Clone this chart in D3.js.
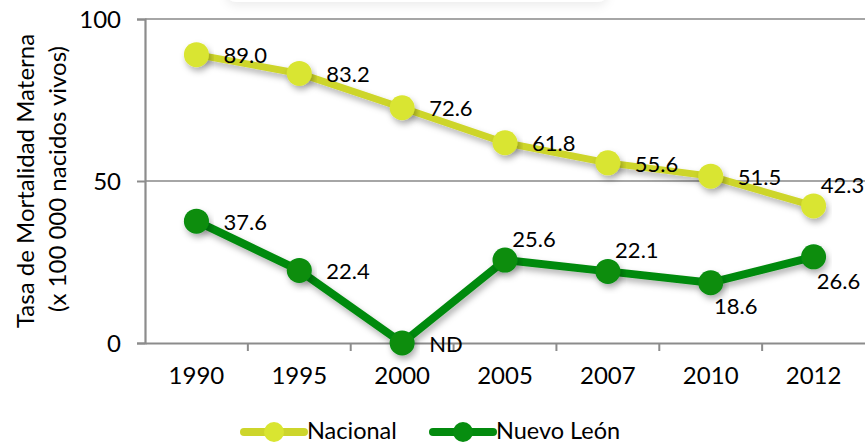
<!DOCTYPE html>
<html>
<head>
<meta charset="utf-8">
<script src="https://cdn.jsdelivr.net/npm/d3@7"></script>
<style>
  html, body { margin: 0; padding: 0; background: #fff; }
  svg { display: block; font-family: Lato, "Open Sans", sans-serif; }
</style>
</head>
<body>
<svg id="chart" width="865" height="445"></svg>
<script>
const years = ["1990", "1995", "2000", "2005", "2007", "2010", "2012"];
const nacional = [89.0, 83.2, 72.6, 61.8, 55.6, 51.5, 42.3];
const nuevoLeon = [37.6, 22.4, 0, 25.6, 22.1, 18.6, 26.6];
const nacionalLabels = ["89.0", "83.2", "72.6", "61.8", "55.6", "51.5", "42.3"];
const nuevoLeonLabels = ["37.6", "22.4", "ND", "25.6", "22.1", "18.6", "26.6"];
const nacionalPlace = ["right", "right", "right", "right", "right", "right", "above"];
const nuevoLeonPlace = ["right", "right", "right", "above", "above", "below", "below"];
const yTicks = [0, 50, 100];
const seriesNames = ["Nacional", "Nuevo León"];

const svg = d3.select("#chart");
const margin = { left: 145, right: 0, top: 19, bottom: 102 };
const W = 865, H = 445;

const x = d3.scaleBand().domain(years).range([margin.left, W - margin.right]).padding(0);
const y = d3.scaleLinear().domain([0, 100]).range([H - margin.bottom, margin.top]);

const defs = svg.append("defs");
const f = defs.append("filter").attr("id", "shadow").attr("x", "-20%").attr("y", "-20%").attr("width", "140%").attr("height", "160%");
f.append("feDropShadow").attr("dx", 2).attr("dy", 4).attr("stdDeviation", 3).attr("flood-color", "#000").attr("flood-opacity", 0.3);
const f2 = defs.append("filter").attr("id", "boxshadow").attr("x", "-10%").attr("y", "-100%").attr("width", "120%").attr("height", "300%");
f2.append("feDropShadow").attr("dx", 0).attr("dy", 4).attr("stdDeviation", 5).attr("flood-color", "#000").attr("flood-opacity", 0.07);

// faint shadow of a title box at top
svg.append("rect").attr("x", 226).attr("y", -40).attr("width", 382).attr("height", 42)
  .attr("rx", 10).attr("fill", "#fff").attr("filter", "url(#boxshadow)");

// gridlines
svg.append("g").selectAll("line").data(yTicks.filter(d => d > 0)).join("line")
  .attr("x1", margin.left).attr("x2", W)
  .attr("y1", d => y(d)).attr("y2", d => y(d))
  .attr("stroke", "#a6a6a6").attr("stroke-width", 2);

// y axis
const yAxis = svg.append("g").attr("transform", `translate(${margin.left},0)`)
  .call(d3.axisLeft(y).tickValues(yTicks).tickSize(8).tickPadding(16).tickFormat(d3.format("d")));
yAxis.select(".domain").attr("stroke", "#8c8c8c").attr("stroke-width", 2.2);
yAxis.selectAll(".tick line").attr("stroke", "#8c8c8c").attr("stroke-width", 2);
yAxis.selectAll("text").attr("font-size", 24).attr("fill", "#000").attr("font-family", "Lato, sans-serif").attr("dy", "0.35em");

// x axis
const xAxis = svg.append("g").attr("transform", `translate(0,${y(0)})`)
  .call(d3.axisBottom(x).tickSize(0).tickPadding(24));
xAxis.select(".domain").attr("stroke", "#8c8c8c").attr("stroke-width", 2.2);
xAxis.selectAll("text").attr("font-size", 24).attr("fill", "#000").attr("font-family", "Lato, sans-serif");
// category boundary tick marks
xAxis.append("g").selectAll("line").data(years.slice(1)).join("line")
  .attr("x1", d => x(d)).attr("x2", d => x(d)).attr("y1", 0).attr("y2", 8)
  .attr("stroke", "#8c8c8c").attr("stroke-width", 2);

// y axis title
const tg = svg.append("g").attr("transform", `translate(26,${y(50)}) rotate(-90)`);
tg.append("text").attr("text-anchor", "middle").attr("x", 0).attr("y", 0)
  .attr("font-size", 24).attr("dy", "0.35em").text("Tasa de Mortalidad Materna");
tg.append("text").attr("text-anchor", "middle").attr("x", 2).attr("y", 32)
  .attr("font-size", 24).attr("dy", "0.35em").text("(x 100 000 nacidos vivos)");

const cx = d => x(d) + x.bandwidth() / 2;
const line = d3.line().x(d => cx(d.year)).y(d => y(d.value));

const series = [
  { name: seriesNames[0], values: nacional, labels: nacionalLabels, place: nacionalPlace, lineColor: "#cdd52b", markColor: "#d9e531", w: 7 },
  { name: seriesNames[1], values: nuevoLeon, labels: nuevoLeonLabels, place: nuevoLeonPlace, lineColor: "#038a0e", markColor: "#078d10", w: 8 }
];

const offsets = {
  right: { dx: 27, dy: 1, anchor: "start" },
  above: { dx: 29, dy: -21, anchor: "middle" },
  below: { dx: 25, dy: 24, anchor: "middle" }
};

series.forEach(s => {
  const pts = years.map((yr, i) => ({ year: yr, value: s.values[i], label: s.labels[i], place: s.place[i] }));
  const g = svg.append("g");
  g.append("path").datum(pts).attr("d", line).attr("fill", "none")
    .attr("stroke", s.lineColor).attr("stroke-width", s.w).attr("stroke-linejoin", "round")
    .attr("filter", "url(#shadow)");
  g.selectAll("circle").data(pts).join("circle")
    .attr("cx", d => cx(d.year)).attr("cy", d => y(d.value)).attr("r", 12.5)
    .attr("fill", s.markColor).attr("filter", "url(#shadow)");
  svg.append("g").selectAll("text").data(pts).join("text")
    .attr("x", d => cx(d.year) + offsets[d.place].dx)
    .attr("y", d => y(d.value) + offsets[d.place].dy)
    .attr("dy", "0.35em")
    .attr("text-anchor", d => offsets[d.place].anchor)
    .attr("font-size", 22).attr("fill", "#000")
    .text(d => d.label);
});

// legend
const legendItems = [
  { name: seriesNames[0], lineColor: series[0].lineColor, markColor: series[0].markColor, x0: 244 },
  { name: seriesNames[1], lineColor: series[1].lineColor, markColor: series[1].markColor, x0: 433 }
];
const lg = svg.append("g");
legendItems.forEach(it => {
  lg.append("line").attr("x1", it.x0).attr("x2", it.x0 + 60).attr("y1", 432).attr("y2", 432)
    .attr("stroke", it.lineColor).attr("stroke-width", 8).attr("stroke-linecap", "round");
  lg.append("circle").attr("cx", it.x0 + 30).attr("cy", 432).attr("r", 10).attr("fill", it.markColor);
  lg.append("text").attr("x", it.x0 + 63).attr("y", 431).attr("dy", "0.35em")
    .attr("font-size", 23.5).attr("fill", "#000").text(it.name);
});
</script>
</body>
</html>
